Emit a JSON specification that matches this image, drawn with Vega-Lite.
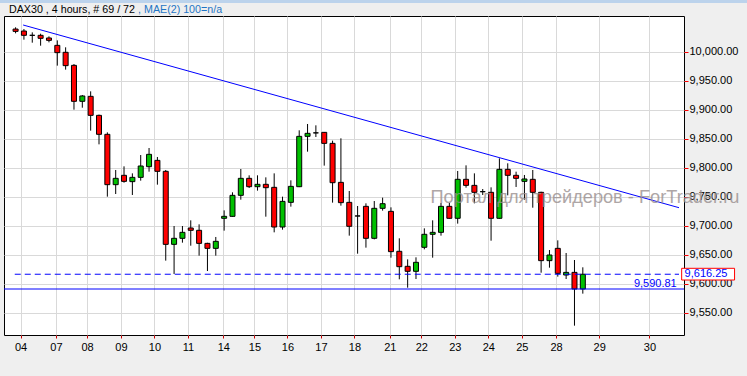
{
  "$schema": "https://vega.github.io/schema/vega-lite/v6.json",
  "autosize": "none",
  "width": 680,
  "height": 319,
  "padding": {"left": 4, "top": 16, "right": 63, "bottom": 41},
  "background": "#efefef",
  "resolve": {"axis": {"x": "independent", "y": "independent"}},
  "config": {
    "view": {"stroke": "#000000", "strokeWidth": 1, "fill": "#ffffff"},
    "axis": {"labelFont": "Liberation Sans", "labelFontSize": 11, "labelColor": "#000000", "gridColor": "#d9d9d9", "gridWidth": 1, "domain": false, "title": null, "labelOverlap": false}
  },
  "datasets": {
    "candles": [
      {"i": 0, "o": 10039, "h": 10042, "l": 10031.6, "c": 10035},
      {"i": 1, "o": 10035.6, "h": 10039, "l": 10020.7, "c": 10028.2},
      {"i": 2, "o": 10028.2, "h": 10033.3, "l": 10015.5, "c": 10028.2},
      {"i": 3, "o": 10028.2, "h": 10031, "l": 10010.3, "c": 10023},
      {"i": 4, "o": 10023.6, "h": 10026.4, "l": 10016.1, "c": 10019.5},
      {"i": 5, "o": 10010.9, "h": 10019.5, "l": 9975.9, "c": 9998.3},
      {"i": 6, "o": 9998.9, "h": 10007.5, "l": 9969, "c": 9975.9},
      {"i": 7, "o": 9976.4, "h": 9978.7, "l": 9900, "c": 9914.4},
      {"i": 8, "o": 9914.4, "h": 9925.3, "l": 9903.4, "c": 9923.6},
      {"i": 9, "o": 9923, "h": 9931.6, "l": 9863.8, "c": 9890.2},
      {"i": 10, "o": 9890.2, "h": 9891.5, "l": 9840.2, "c": 9857.5},
      {"i": 11, "o": 9857.5, "h": 9860.9, "l": 9750, "c": 9770.7},
      {"i": 12, "o": 9770.7, "h": 9796, "l": 9754.6, "c": 9781.6},
      {"i": 13, "o": 9786.8, "h": 9802.3, "l": 9774.1, "c": 9776.4},
      {"i": 14, "o": 9775.9, "h": 9790.2, "l": 9752.9, "c": 9783.3},
      {"i": 15, "o": 9783.3, "h": 9821.8, "l": 9777.6, "c": 9802.9},
      {"i": 16, "o": 9801.7, "h": 9833.9, "l": 9793.1, "c": 9823},
      {"i": 17, "o": 9812.6, "h": 9818.4, "l": 9770.7, "c": 9793.7},
      {"i": 18, "o": 9793.7, "h": 9796, "l": 9639.7, "c": 9667.8},
      {"i": 19, "o": 9667.8, "h": 9699.4, "l": 9616.7, "c": 9678.2},
      {"i": 20, "o": 9678.2, "h": 9699.4, "l": 9670.7, "c": 9688.5},
      {"i": 21, "o": 9696, "h": 9709.2, "l": 9665.5, "c": 9692},
      {"i": 22, "o": 9692, "h": 9702.3, "l": 9648.3, "c": 9669.5},
      {"i": 23, "o": 9669.5, "h": 9670.5, "l": 9621.8, "c": 9660.9},
      {"i": 24, "o": 9660.9, "h": 9680.5, "l": 9648.3, "c": 9673},
      {"i": 25, "o": 9712.7, "h": 9726.4, "l": 9691.4, "c": 9716.1},
      {"i": 26, "o": 9716.1, "h": 9757.5, "l": 9715.5, "c": 9752.3},
      {"i": 27, "o": 9752.3, "h": 9797.7, "l": 9744.8, "c": 9781.6},
      {"i": 28, "o": 9781.6, "h": 9786.8, "l": 9764.9, "c": 9767.2},
      {"i": 29, "o": 9767.2, "h": 9786.8, "l": 9760.4, "c": 9771.3},
      {"i": 30, "o": 9771.3, "h": 9783.3, "l": 9715.5, "c": 9765.5},
      {"i": 31, "o": 9766.1, "h": 9790.2, "l": 9688.5, "c": 9697.7},
      {"i": 32, "o": 9697.7, "h": 9750, "l": 9693.1, "c": 9741.9},
      {"i": 33, "o": 9740.2, "h": 9778.2, "l": 9732.8, "c": 9767.8},
      {"i": 34, "o": 9767.2, "h": 9864.4, "l": 9766.5, "c": 9854},
      {"i": 35, "o": 9854, "h": 9875.3, "l": 9827.6, "c": 9859.2},
      {"i": 36, "o": 9860, "h": 9873, "l": 9852.9, "c": 9860},
      {"i": 37, "o": 9860.9, "h": 9861.5, "l": 9803.5, "c": 9841.9},
      {"i": 38, "o": 9841.9, "h": 9846.6, "l": 9739.7, "c": 9774.1},
      {"i": 39, "o": 9774.7, "h": 9850.6, "l": 9734.5, "c": 9739.7},
      {"i": 40, "o": 9740.2, "h": 9759.8, "l": 9682.8, "c": 9698.9},
      {"i": 41, "o": 9716.7, "h": 9733.9, "l": 9651.7, "c": 9716.7},
      {"i": 42, "o": 9733.3, "h": 9738.5, "l": 9662.1, "c": 9678.2},
      {"i": 43, "o": 9678.2, "h": 9742.5, "l": 9676.4, "c": 9729.9},
      {"i": 44, "o": 9729.9, "h": 9748.3, "l": 9725.9, "c": 9737.9},
      {"i": 45, "o": 9724.7, "h": 9731.6, "l": 9644.8, "c": 9655.2},
      {"i": 46, "o": 9655.8, "h": 9678.2, "l": 9607.5, "c": 9629.3},
      {"i": 47, "o": 9629.9, "h": 9641.9, "l": 9593.1, "c": 9621.3},
      {"i": 48, "o": 9621.3, "h": 9645.4, "l": 9608, "c": 9636.8},
      {"i": 49, "o": 9662.7, "h": 9695.4, "l": 9659.2, "c": 9685.1},
      {"i": 50, "o": 9685.1, "h": 9709.2, "l": 9644.8, "c": 9688.5},
      {"i": 51, "o": 9688.5, "h": 9739.1, "l": 9682.8, "c": 9733.3},
      {"i": 52, "o": 9733.3, "h": 9739.1, "l": 9712, "c": 9712.7},
      {"i": 53, "o": 9712.7, "h": 9794.3, "l": 9703.5, "c": 9779.9},
      {"i": 54, "o": 9779.9, "h": 9804, "l": 9765.5, "c": 9769.5},
      {"i": 55, "o": 9769.5, "h": 9790.2, "l": 9738.5, "c": 9757.5},
      {"i": 56, "o": 9758.6, "h": 9763.2, "l": 9752.9, "c": 9758.6},
      {"i": 57, "o": 9757.5, "h": 9766.1, "l": 9674.1, "c": 9712.7},
      {"i": 58, "o": 9712.7, "h": 9816.1, "l": 9712, "c": 9797.1},
      {"i": 59, "o": 9797.1, "h": 9807.5, "l": 9752.3, "c": 9786.8},
      {"i": 60, "o": 9786.8, "h": 9793.1, "l": 9766.7, "c": 9781.6},
      {"i": 61, "o": 9776.4, "h": 9787.4, "l": 9744.8, "c": 9780.5},
      {"i": 62, "o": 9779.9, "h": 9796, "l": 9731, "c": 9757.5},
      {"i": 63, "o": 9757.5, "h": 9758.5, "l": 9618.9, "c": 9639.7},
      {"i": 64, "o": 9639.7, "h": 9658, "l": 9627.6, "c": 9649.4},
      {"i": 65, "o": 9660.9, "h": 9674.7, "l": 9612.1, "c": 9617.8},
      {"i": 66, "o": 9614.9, "h": 9652.9, "l": 9608, "c": 9619.5},
      {"i": 67, "o": 9619.5, "h": 9640.8, "l": 9527.6, "c": 9590.8},
      {"i": 68, "o": 9590.8, "h": 9628.2, "l": 9582.8, "c": 9616.25}
    ],
    "trend": [{"i": 0.9, "v": 10046}, {"i": 79.53, "v": 9731}],
    "header": [
      {"t": "DAX30 , 4 hours, # 69 / 72", "part": "name", "x": -0.79, "v": 10066.7},
      {"t": ", MAE(2) 100=n/a", "part": "indicator", "x": 14.68, "v": 10066.7}
    ]
  },
  "layer": [
    {
      "data": {"name": "candles"},
      "mark": {"type": "rule", "color": "#000000", "strokeWidth": 1},
      "encoding": {
        "x": {"field": "i", "type": "quantitative", "scale": {"domain": [-0.79, 79.53], "nice": false, "zero": false},
          "axis": {"orient": "bottom", "values": [0.59, 4.84, 8.57, 12.63, 16.65, 20.66, 24.91, 28.64, 32.59, 36.6, 40.62, 44.86, 48.64, 52.66, 56.67, 60.69, 64.8, 69.96, 75.99],
            "labelExpr": "datum.value<2?'04':datum.value<6?'07':datum.value<10?'08':datum.value<14?'09':datum.value<18?'10':datum.value<22?'11':datum.value<26?'14':datum.value<30?'15':datum.value<34?'16':datum.value<38?'17':datum.value<42?'18':datum.value<46?'21':datum.value<50?'22':datum.value<54?'23':datum.value<58?'24':datum.value<62?'25':datum.value<67?'28':datum.value<72?'29':'30'",
            "tickColor": "#cc0000", "tickSize": 3, "labelPadding": 3, "labelFlush": false, "labelOverlap": false, "grid": true}},
        "y": {"field": "l", "type": "quantitative", "scale": {"domain": [9511.5, 10061.5], "nice": false, "zero": false},
          "axis": {"orient": "right", "values": [9550, 9600, 9650, 9700, 9750, 9800, 9850, 9900, 9950, 10000], "format": ",.2f", "tickColor": "#ff0000", "tickSize": 4, "labelPadding": 1, "labelOverlap": false, "labelFlush": false, "grid": true}},
        "y2": {"field": "h"}
      }
    },
    {
      "data": {"values": [{"x1": -3, "x2": 90, "y1": 10083.9, "y2": 10100}]},
      "mark": {"type": "rect", "fill": "#bcd3ec", "clip": false},
      "encoding": {"x": {"field": "x1", "type": "quantitative", "axis": null}, "x2": {"field": "x2"}, "y": {"field": "y1", "type": "quantitative", "axis": null}, "y2": {"field": "y2"}}
    },
    {
      "data": {"name": "candles"},
      "mark": {"type": "bar", "size": 5, "stroke": "#000000", "strokeWidth": 1},
      "encoding": {
        "x": {"field": "i", "type": "quantitative", "axis": null},
        "y": {"field": "o", "type": "quantitative", "axis": null},
        "y2": {"field": "c"},
        "fill": {"condition": {"test": "datum.c >= datum.o", "value": "#00c000"}, "value": "#ff0000"}
      }
    },
    {
      "data": {"name": "trend"},
      "mark": {"type": "line", "color": "#0000ff", "strokeWidth": 1},
      "encoding": {"x": {"field": "i", "type": "quantitative", "axis": null}, "y": {"field": "v", "type": "quantitative", "axis": null}}
    },
    {
      "data": {"values": [{"v": 9590.81}]},
      "mark": {"type": "rule", "color": "#0000ff", "strokeWidth": 1},
      "encoding": {"y": {"field": "v", "type": "quantitative", "axis": null}}
    },
    {
      "data": {"values": [{"v": 9616.25, "a": -0.1, "b": 79.53}]},
      "mark": {"type": "rule", "color": "#0000ff", "strokeWidth": 1, "strokeDash": [6, 4]},
      "encoding": {"y": {"field": "v", "type": "quantitative", "axis": null}, "x": {"field": "a", "type": "quantitative", "axis": null}, "x2": {"field": "b"}}
    },
    {
      "data": {"values": [{"v": 9590.81, "x": 79.26, "t": "9,590.81"}]},
      "mark": {"type": "text", "color": "#0000ff", "font": "Liberation Sans", "fontSize": 11, "align": "right", "baseline": "alphabetic", "dy": -2},
      "encoding": {"x": {"field": "x", "type": "quantitative", "axis": null}, "y": {"field": "v", "type": "quantitative", "axis": null}, "text": {"field": "t"}}
    },
    {
      "data": {"values": [{"watermark": "Портал для трейдеров - ForTrader.ru", "x": 49.74, "v": 9739}]},
      "mark": {"type": "text", "color": "#9a9090", "opacity": 0.8, "font": "Liberation Sans", "fontSize": 18.2, "align": "left", "baseline": "alphabetic", "clip": false},
      "encoding": {"x": {"field": "x", "type": "quantitative", "axis": null}, "y": {"field": "v", "type": "quantitative", "axis": null}, "text": {"field": "watermark"}}
    },
    {
      "data": {"values": [{"x1": 79.85, "x2": 86.19, "y1": 9606.3, "y2": 9626.5}]},
      "mark": {"type": "rect", "fill": "#ffffff", "stroke": "#ff0000", "strokeWidth": 1, "clip": false},
      "encoding": {"x": {"field": "x1", "type": "quantitative", "axis": null}, "x2": {"field": "x2"}, "y": {"field": "y1", "type": "quantitative", "axis": null}, "y2": {"field": "y2"}}
    },
    {
      "data": {"values": [{"v": 9616.25, "x": 80.2, "t": "9,616.25"}]},
      "mark": {"type": "text", "color": "#0000ff", "font": "Liberation Sans", "fontSize": 11, "align": "left", "baseline": "middle", "clip": false},
      "encoding": {"x": {"field": "x", "type": "quantitative", "axis": null}, "y": {"field": "v", "type": "quantitative", "axis": null}, "text": {"field": "t"}}
    },
    {
      "data": {"name": "header"},
      "mark": {"type": "text", "font": "Liberation Sans", "fontSize": 10.7, "align": "left", "baseline": "alphabetic", "clip": false},
      "encoding": {
        "x": {"field": "x", "type": "quantitative", "axis": null},
        "y": {"field": "v", "type": "quantitative", "axis": null},
        "text": {"field": "t"},
        "color": {"field": "part", "type": "nominal", "scale": {"domain": ["name", "indicator"], "range": ["#000000", "#1f75c4"]}, "legend": null}
      }
    }
  ]
}
